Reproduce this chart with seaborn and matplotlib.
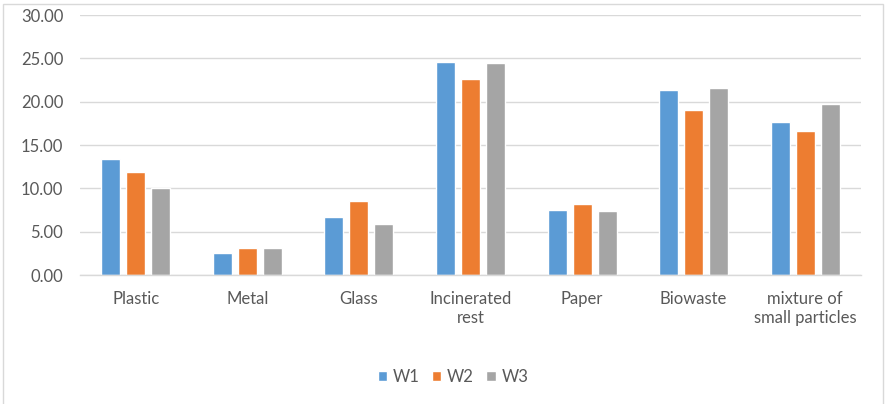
import matplotlib
matplotlib.use("Agg")
import matplotlib.pyplot as plt
import seaborn as sns
import pandas as pd
from matplotlib.patches import Rectangle

categories = ["Plastic", "Metal", "Glass", "Incinerated\nrest", "Paper",
              "Biowaste", "mixture of\nsmall particles"]
w1 = [13.35, 2.50, 6.65, 24.54, 7.46, 21.38, 17.65]
w2 = [11.88, 3.08, 8.58, 22.60, 8.19, 19.04, 16.58]
w3 = [10.08, 3.08, 5.85, 24.42, 7.35, 21.54, 19.73]
series_names = ["W1", "W2", "W3"]
y_ticks = [0, 5, 10, 15, 20, 25, 30]

df = pd.DataFrame({
    "category": categories * 3,
    "series": [s for s in series_names for _ in categories],
    "value": w1 + w2 + w3,
})

sns.set_theme(style="white")
plt.rcParams["font.family"] = ["Lato", "DejaVu Sans"]

palette = {"W1": "#5B9BD5", "W2": "#ED7D31", "W3": "#A5A5A5"}
text_color = "#595959"
font_size = 12

fig = plt.figure(figsize=(8.86, 4.04), dpi=100)
ax = fig.add_axes([80 / 886, 1 - 275 / 404, 781 / 886, 260 / 404])

sns.barplot(data=df, x="category", y="value", hue="series", order=categories,
            hue_order=series_names, palette=palette, width=0.672, gap=0.24,
            saturation=1, ax=ax, legend=True)

ax.set_ylim(0, 30)
ax.set_xlim(-0.5, len(categories) - 0.5)
ax.set_yticks(y_ticks)
ax.set_yticklabels([f"{t:.2f}" for t in y_ticks])
ax.yaxis.grid(True, color="#d9d9d9", linewidth=1)
ax.set_axisbelow(True)
for side in ["top", "right", "left"]:
    ax.spines[side].set_visible(False)
ax.spines["bottom"].set_color("#d9d9d9")
ax.spines["bottom"].set_linewidth(1)
ax.tick_params(axis="both", length=0, colors=text_color, labelsize=font_size)
ax.tick_params(axis="y", pad=12)
ax.tick_params(axis="x", pad=11.5)
for lbl in ax.get_xticklabels():
    lbl.set_linespacing(1.25)
ax.set_xlabel("")
ax.set_ylabel("")

handles, labels = ax.get_legend_handles_labels()
ax.legend(handles, labels, loc="center", bbox_to_anchor=(453 / 886, 1 - 377 / 404),
          bbox_transform=fig.transFigure, ncol=3, frameon=False, fontsize=font_size,
          labelcolor=text_color, handlelength=0.55, handleheight=0.55,
          handletextpad=0.35, columnspacing=0.75)

# Chart frame
fig.patches.append(Rectangle((3 / 886, -0.02), 880 / 886, 1 - 4 / 404 + 0.02,
                             transform=fig.transFigure, fill=False,
                             edgecolor="#d9d9d9", linewidth=1))

fig.savefig("out.png", dpi=100)
